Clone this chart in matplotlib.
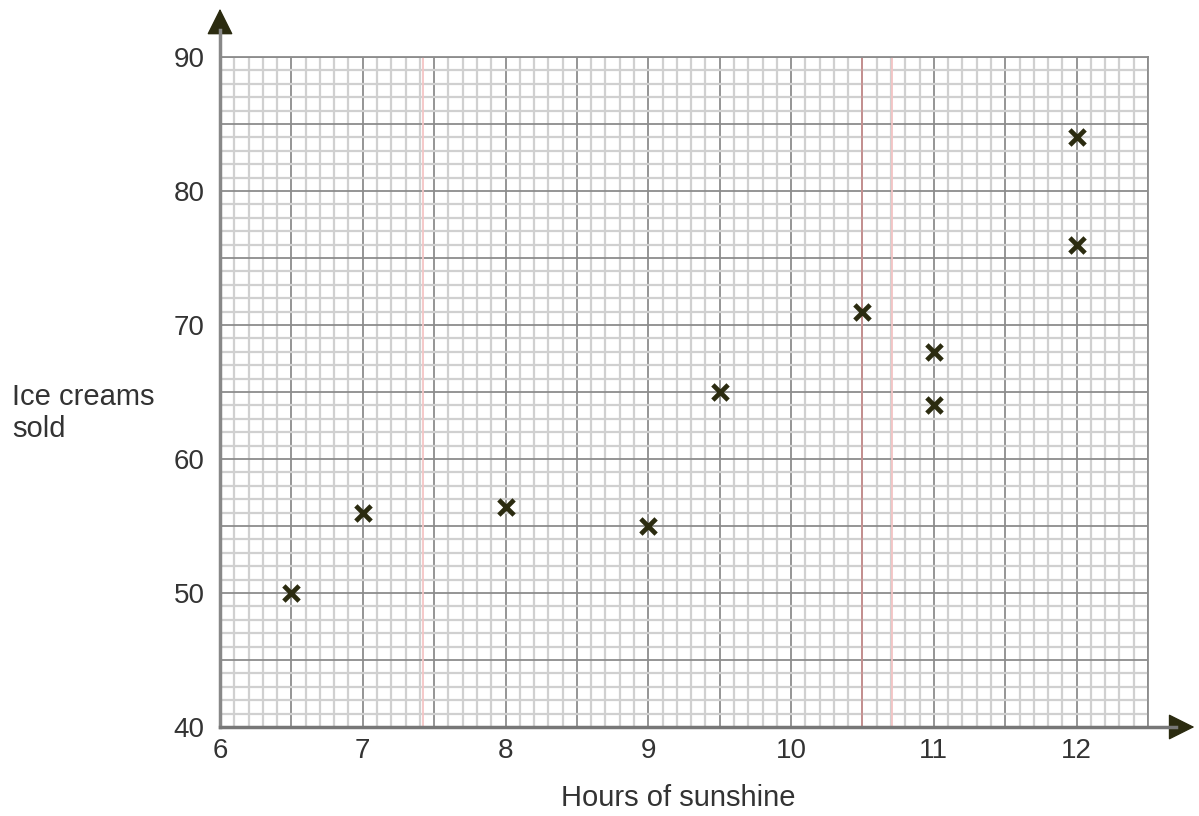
import numpy as np
import matplotlib
matplotlib.use("Agg")
import matplotlib.pyplot as plt
from matplotlib.ticker import MultipleLocator, FuncFormatter

plt.rcParams['font.family'] = ['Liberation Sans', 'DejaVu Sans']

# data
hours = [6.5, 7, 8, 9, 9.5, 10.5, 11, 11, 12, 12]
ice_creams = [50, 56, 56.4, 55, 65, 71, 68, 64, 84, 76]
x_ticks = [6, 7, 8, 9, 10, 11, 12]
y_ticks = [40, 50, 60, 70, 80, 90]

fig = plt.figure(figsize=(11.99, 8.16), dpi=100)
ax = fig.add_axes([220 / 1199, 89 / 816, 928 / 1199, 670 / 816])

ax.set_xlim(6, 12.5)
ax.set_ylim(40, 90)

# graph paper: dark lines every 0.5 / 5, light lines every 0.1 / 1
ax.xaxis.set_major_locator(MultipleLocator(0.5))
ax.xaxis.set_minor_locator(MultipleLocator(0.1))
ax.yaxis.set_major_locator(MultipleLocator(5))
ax.yaxis.set_minor_locator(MultipleLocator(1))
ax.xaxis.set_major_formatter(FuncFormatter(
    lambda v, p: str(int(round(v))) if round(v) in x_ticks and abs(v - round(v)) < 1e-6 else ''))
ax.yaxis.set_major_formatter(FuncFormatter(
    lambda v, p: str(int(round(v))) if round(v) in y_ticks and abs(v - round(v)) < 1e-6 else ''))
ax.grid(which='minor', color='#d0d0d0', linewidth=1.6)
ax.grid(which='major', color='#8c8c8c', linewidth=1.3)
ax.set_axisbelow(True)

# faint red lines on the scanned paper
for xr, c in [(7.42, '#f4c4c4'), (10.5, '#c89090'), (10.71, '#f4c4c4')]:
    ax.axvline(xr, color=c, linewidth=1.3, zorder=1)

ax.tick_params(which='both', length=0, labelsize=20, colors='#333333')
ax.tick_params(axis='x', pad=8)
ax.tick_params(axis='y', pad=11)

for s in ['top', 'right']:
    ax.spines[s].set_color('#8c8c8c')
    ax.spines[s].set_linewidth(1.3)
ax.spines['left'].set_color('#c08080')
ax.spines['left'].set_linewidth(2)
ax.spines['bottom'].set_color('#777777')
ax.spines['bottom'].set_linewidth(2)

# arrows on the axes
ax.plot([0, 0], [0, 1.04], transform=ax.transAxes, color='#888888', lw=2.5,
        clip_on=False, zorder=5)
ax.plot([0, 1.03], [0, 0], transform=ax.transAxes, color='#777777', lw=2.5,
        clip_on=False, zorder=5)
ax.annotate('', xy=(1.05, 0), xytext=(1.02, 0), xycoords='axes fraction',
            arrowprops=dict(arrowstyle='-|>', color='#2b2b10', lw=1,
                            mutation_scale=42, shrinkA=0, shrinkB=0),
            annotation_clip=False)
ax.annotate('', xy=(0, 1.072), xytext=(0, 1.03), xycoords='axes fraction',
            arrowprops=dict(arrowstyle='-|>', color='#2b2b10', lw=1,
                            mutation_scale=42, shrinkA=0, shrinkB=0),
            annotation_clip=False)

ax.scatter(hours, ice_creams, marker='x', s=120, linewidths=3.4,
           color='#2b2b10', zorder=6)

fig.text(12 / 1199, 1 - 413 / 816, 'Ice creams\nsold', fontsize=21,
         color='#333333', ha='left', va='center', linespacing=1.15)
fig.text(678 / 1199, 1 - 798 / 816, 'Hours of sunshine', fontsize=21,
         color='#333333', ha='center', va='center')

fig.savefig('out.png', dpi=100)
